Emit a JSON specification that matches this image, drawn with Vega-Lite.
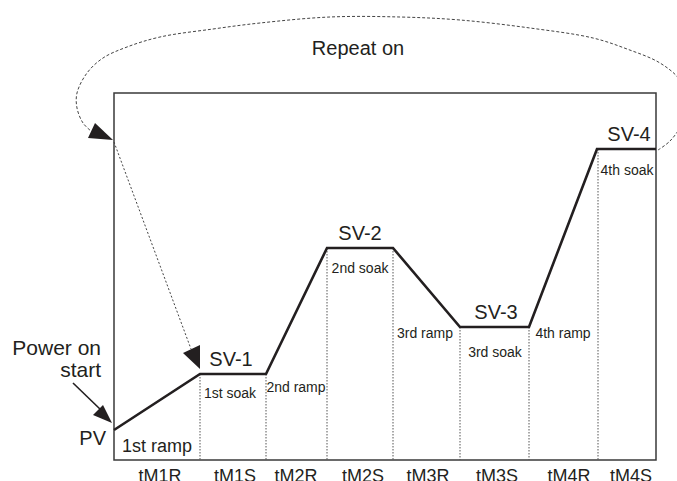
{
  "$schema": "https://vega.github.io/schema/vega-lite/v6.json",
  "width": 677,
  "height": 481,
  "autosize": {"type": "none"},
  "padding": 0,
  "background": "white",
  "config": {"view": {"stroke": null}},
  "datasets": {
    "box": [{"x": 114, "y": 93, "x2": 656, "y2": 460}],
    "dividers": [
      {"x": 200, "y": 374, "y2": 460},
      {"x": 266, "y": 374, "y2": 460},
      {"x": 327, "y": 248, "y2": 460},
      {"x": 393, "y": 248, "y2": 460},
      {"x": 460, "y": 327, "y2": 460},
      {"x": 529, "y": 327, "y2": 460},
      {"x": 598, "y": 149, "y2": 460}
    ],
    "profile": [
      {"i": 0, "x": 114, "y": 430},
      {"i": 1, "x": 200, "y": 374},
      {"i": 2, "x": 266, "y": 374},
      {"i": 3, "x": 327, "y": 248},
      {"i": 4, "x": 393, "y": 248},
      {"i": 5, "x": 460, "y": 327},
      {"i": 6, "x": 529, "y": 327},
      {"i": 7, "x": 597, "y": 149},
      {"i": 8, "x": 656, "y": 149}
    ],
    "loop": [
      {"i": 0, "x": 658, "y": 150},
      {"i": 1, "x": 670, "y": 141},
      {"i": 2, "x": 683, "y": 122},
      {"i": 3, "x": 688, "y": 100},
      {"i": 4, "x": 680, "y": 80},
      {"i": 5, "x": 660, "y": 63},
      {"i": 6, "x": 627, "y": 49},
      {"i": 7, "x": 593, "y": 38},
      {"i": 8, "x": 530, "y": 28},
      {"i": 9, "x": 460, "y": 20},
      {"i": 10, "x": 400, "y": 17},
      {"i": 11, "x": 330, "y": 17},
      {"i": 12, "x": 260, "y": 23},
      {"i": 13, "x": 213, "y": 29},
      {"i": 14, "x": 160, "y": 37},
      {"i": 15, "x": 127, "y": 47},
      {"i": 16, "x": 103, "y": 58},
      {"i": 17, "x": 87, "y": 73},
      {"i": 18, "x": 77, "y": 93},
      {"i": 19, "x": 77, "y": 108},
      {"i": 20, "x": 83, "y": 123},
      {"i": 21, "x": 91, "y": 131}
    ],
    "powerLine": [
      {"i": 0, "x": 73, "y": 383},
      {"i": 1, "x": 101, "y": 410}
    ],
    "diagLine": [
      {"i": 0, "x": 114, "y": 142},
      {"i": 1, "x": 191, "y": 349}
    ],
    "tipPower": [{"x": 112, "y": 423}],
    "tipSV1": [{"x": 200, "y": 369}],
    "tipRepeat": [{"x": 113, "y": 140}],
    "bigLabels": [
      {"t": "Repeat on", "x": 358, "y": 55},
      {"t": "SV-1", "x": 231, "y": 366},
      {"t": "SV-2", "x": 360, "y": 240},
      {"t": "SV-3", "x": 496, "y": 319},
      {"t": "SV-4", "x": 629, "y": 141}
    ],
    "startLabels": [
      {"t": "Power on", "x": 101, "y": 355},
      {"t": "start", "x": 101, "y": 377}
    ],
    "pvLabel": [{"t": "PV", "x": 106, "y": 445}],
    "timeLabels": [
      {"t": "tM1R", "x": 160, "y": 482},
      {"t": "tM1S", "x": 235, "y": 482},
      {"t": "tM2R", "x": 296, "y": 482},
      {"t": "tM2S", "x": 363, "y": 482},
      {"t": "tM3R", "x": 428, "y": 482},
      {"t": "tM3S", "x": 497, "y": 482},
      {"t": "tM4R", "x": 569, "y": 482},
      {"t": "tM4S", "x": 631, "y": 482}
    ],
    "firstRamp": [{"t": "1st ramp", "x": 157, "y": 452}],
    "segLabels": [
      {"t": "1st soak", "x": 230, "y": 398},
      {"t": "2nd ramp", "x": 296, "y": 392},
      {"t": "2nd soak", "x": 360, "y": 273},
      {"t": "3rd ramp", "x": 425, "y": 338},
      {"t": "3rd soak", "x": 495, "y": 357},
      {"t": "4th ramp", "x": 563, "y": 338},
      {"t": "4th soak", "x": 627, "y": 175}
    ]
  },
  "encoding": {
    "x": {"field": "x", "type": "quantitative", "scale": {"domain": [0, 677], "nice": false, "zero": false}, "axis": null},
    "y": {"field": "y", "type": "quantitative", "scale": {"domain": [0, 481], "reverse": true, "nice": false, "zero": false}, "axis": null}
  },
  "layer": [
    {
      "data": {"name": "box"},
      "mark": {"type": "rect", "filled": false, "stroke": "#3a3a3a", "strokeWidth": 1.5},
      "encoding": {"x2": {"field": "x2"}, "y2": {"field": "y2"}}
    },
    {
      "data": {"name": "dividers"},
      "mark": {"type": "rule", "color": "#555555", "strokeWidth": 1, "strokeDash": [1.5, 1.5]},
      "encoding": {"y2": {"field": "y2"}}
    },
    {
      "data": {"name": "profile"},
      "mark": {"type": "line", "color": "#231f20", "strokeWidth": 2.6, "strokeJoin": "miter"},
      "encoding": {"order": {"field": "i", "type": "quantitative"}}
    },
    {
      "data": {"name": "loop"},
      "mark": {"type": "line", "color": "#444444", "strokeWidth": 1, "strokeDash": [3, 2], "interpolate": "catmull-rom"},
      "encoding": {"order": {"field": "i", "type": "quantitative"}}
    },
    {
      "data": {"name": "powerLine"},
      "mark": {"type": "line", "color": "#231f20", "strokeWidth": 1.6},
      "encoding": {"order": {"field": "i", "type": "quantitative"}}
    },
    {
      "data": {"name": "diagLine"},
      "mark": {"type": "line", "color": "#444444", "strokeWidth": 1, "strokeDash": [2, 2]},
      "encoding": {"order": {"field": "i", "type": "quantitative"}}
    },
    {
      "data": {"name": "tipPower"},
      "mark": {"type": "point", "filled": true, "color": "#231f20", "opacity": 1, "size": 4, "shape": "M0,0L-19,-8L-9,-18Z"}
    },
    {
      "data": {"name": "tipSV1"},
      "mark": {"type": "point", "filled": true, "color": "#231f20", "opacity": 1, "size": 4, "shape": "M0,0L-17,-16L0,-24Z"}
    },
    {
      "data": {"name": "tipRepeat"},
      "mark": {"type": "point", "filled": true, "color": "#231f20", "opacity": 1, "size": 4, "shape": "M0,0L-25,-2L-18,-17Z"}
    },
    {
      "data": {"name": "bigLabels"},
      "mark": {"type": "text", "font": "Liberation Sans", "fontSize": 20, "color": "#231f20", "align": "center", "baseline": "alphabetic"},
      "encoding": {"text": {"field": "t"}}
    },
    {
      "data": {"name": "startLabels"},
      "mark": {"type": "text", "font": "Liberation Sans", "fontSize": 21, "color": "#231f20", "align": "right", "baseline": "alphabetic"},
      "encoding": {"text": {"field": "t"}}
    },
    {
      "data": {"name": "pvLabel"},
      "mark": {"type": "text", "font": "Liberation Sans", "fontSize": 20, "color": "#231f20", "align": "right", "baseline": "alphabetic"},
      "encoding": {"text": {"field": "t"}}
    },
    {
      "data": {"name": "timeLabels"},
      "mark": {"type": "text", "font": "Liberation Sans", "fontSize": 18, "color": "#231f20", "align": "center", "baseline": "alphabetic"},
      "encoding": {"text": {"field": "t"}}
    },
    {
      "data": {"name": "firstRamp"},
      "mark": {"type": "text", "font": "Liberation Sans", "fontSize": 18, "color": "#231f20", "align": "center", "baseline": "alphabetic"},
      "encoding": {"text": {"field": "t"}}
    },
    {
      "data": {"name": "segLabels"},
      "mark": {"type": "text", "font": "Liberation Sans", "fontSize": 14, "color": "#231f20", "align": "center", "baseline": "alphabetic"},
      "encoding": {"text": {"field": "t"}}
    }
  ]
}
